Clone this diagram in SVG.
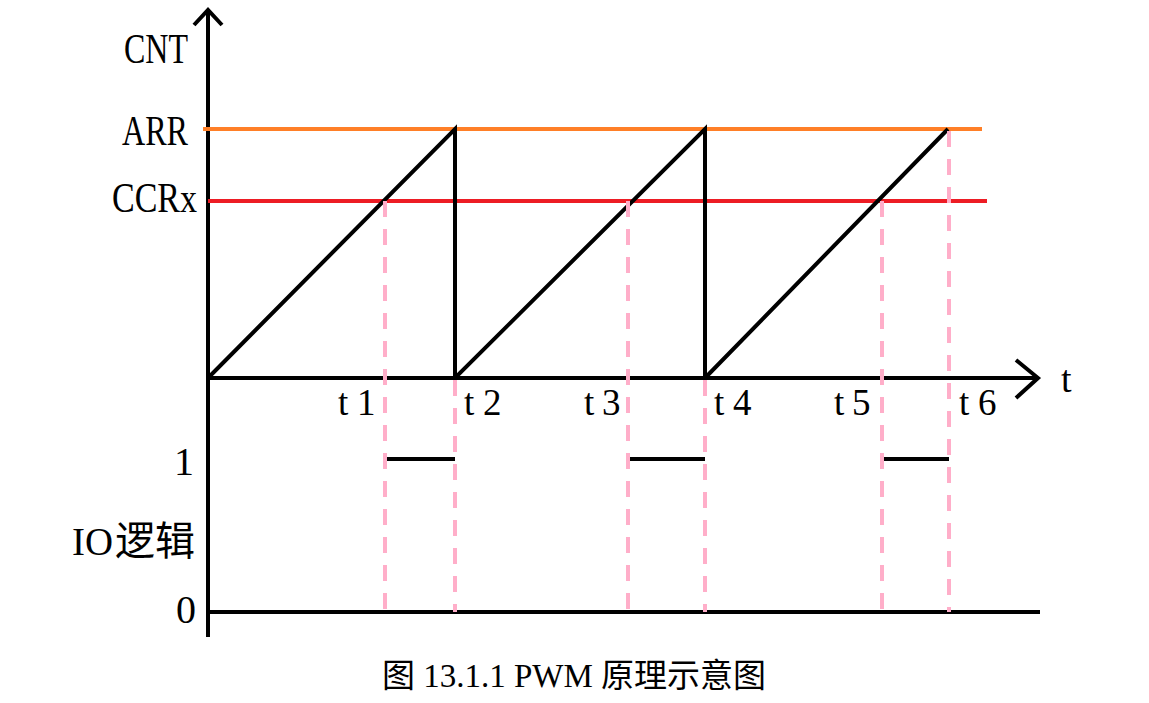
<svg xmlns="http://www.w3.org/2000/svg" width="1149" height="703" viewBox="0 0 1149 703">
<style>
.ax{stroke:#000;stroke-width:4;fill:none}
.saw{stroke:#000;stroke-width:4;fill:none;stroke-linejoin:miter}
.lvl{stroke:#000;stroke-width:4;fill:none}
.dash{stroke:#FFAEC9;stroke-width:4;stroke-dasharray:16 12;fill:none}
.lbl{font-family:"Liberation Serif",serif;fill:#000}
.tl{font-family:"Liberation Serif",serif;fill:#000;font-size:37px}
.cjk{font-family:"Noto Sans CJK SC",sans-serif;fill:#000}
</style>
<rect width="1149" height="703" fill="#fff"/>
<g id="axes">
<line class="ax" x1="208" y1="10" x2="208" y2="637"/>
<polyline class="ax" points="194,25 208,10 222,25"/>
<line class="ax" x1="206" y1="378" x2="1038" y2="378"/>
<polyline class="ax" points="1016,360 1038,378 1016,398"/>
<line class="ax" x1="206" y1="612" x2="1040" y2="612"/>
</g>
<g id="arr-line"><line x1="203" y1="129" x2="982" y2="129" stroke="#FF7F27" stroke-width="4"/></g>
<g id="ccr-line"><line x1="208" y1="201" x2="987" y2="201" stroke="#ED1C24" stroke-width="4"/></g>
<g id="sawtooth">
<polyline class="saw" points="208,378 455,129 455,378 705,129 705,378 948,129"/>
</g>
<g id="io-levels">
<line class="lvl" x1="385" y1="459" x2="455" y2="459"/>
<line class="lvl" x1="628" y1="459" x2="705" y2="459"/>
<line class="lvl" x1="882" y1="459" x2="949" y2="459"/>
</g>
<g id="connectors">
<line class="dash" x1="385" y1="201" x2="385" y2="612"/>
<line class="dash" x1="455" y1="380" x2="455" y2="612"/>
<line class="dash" x1="628" y1="201" x2="628" y2="612"/>
<line class="dash" x1="705" y1="380" x2="705" y2="612"/>
<line class="dash" x1="882" y1="201" x2="882" y2="612"/>
<line class="dash" x1="949" y1="131" x2="949" y2="612"/>
</g>
<g id="labels">
<text class="lbl" x="124" y="63" font-size="42" textLength="64" lengthAdjust="spacingAndGlyphs">CNT</text>
<text class="lbl" x="122" y="145" font-size="42" textLength="66" lengthAdjust="spacingAndGlyphs">ARR</text>
<text class="lbl" x="112" y="212" font-size="42" textLength="85" lengthAdjust="spacingAndGlyphs">CCRx</text>
<text class="tl" y="415"><tspan x="338">t</tspan><tspan x="357">1</tspan></text>
<text class="tl" y="415"><tspan x="464">t</tspan><tspan x="483">2</tspan></text>
<text class="tl" y="415"><tspan x="584">t</tspan><tspan x="602">3</tspan></text>
<text class="tl" y="415"><tspan x="714">t</tspan><tspan x="733">4</tspan></text>
<text class="tl" y="415"><tspan x="834">t</tspan><tspan x="852">5</tspan></text>
<text class="tl" y="415"><tspan x="959">t</tspan><tspan x="978">6</tspan></text>
<text class="lbl" x="1061" y="392" font-size="38">t</text>
<text class="lbl" x="194" y="475" font-size="40" text-anchor="end">1</text>
<text class="lbl" x="196" y="623" font-size="40" text-anchor="end">0</text>
<text x="72" y="555" font-size="40"><tspan class="lbl" textLength="41" lengthAdjust="spacingAndGlyphs">IO</tspan><tspan class="cjk" x="115">逻辑</tspan></text>
</g>
<g id="caption">
<text x="382" y="687" font-size="33"><tspan class="cjk">图</tspan><tspan class="lbl"> 13.1.1 PWM </tspan><tspan class="cjk">原理示意图</tspan></text>
</g>
</svg>
